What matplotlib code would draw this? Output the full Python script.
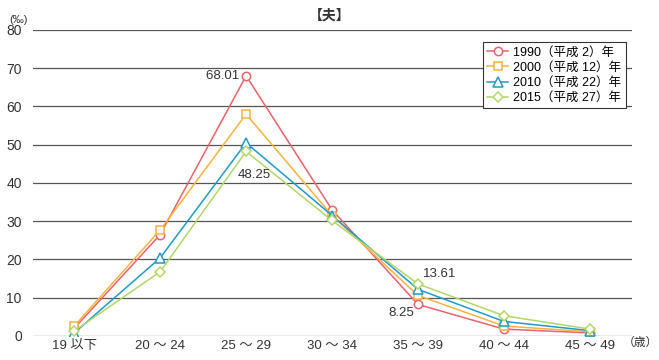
import matplotlib
matplotlib.use("Agg")
import matplotlib.pyplot as plt

plt.rcParams['font.family'] = ['Liberation Sans', 'Noto Sans CJK JP', 'DejaVu Sans']

ages = ['19 以下', '20 ～ 24', '25 ～ 29', '30 ～ 34', '35 ～ 39', '40 ～ 44', '45 ～ 49']
labels = ['1990（平成 2）年', '2000（平成 12）年', '2010（平成 22）年', '2015（平成 27）年']
v1990 = [2.0, 26.5, 68.01, 33.0, 8.25, 1.8, 0.8]
v2000 = [2.6, 27.7, 58.0, 31.5, 10.6, 2.6, 1.1]
v2010 = [0.8, 20.4, 50.5, 31.5, 12.2, 3.8, 1.4]
v2015 = [1.3, 16.8, 48.25, 30.2, 13.61, 5.3, 1.8]

colors = ['#e8636b', '#f5b342', '#1f9ac9', '#b2d66a']
markers = ['o', 's', '^', 'D']
msizes = [6, 6, 7, 5.5]

fig = plt.figure(figsize=(6.59, 3.6), dpi=100)
ax = fig.add_axes([0.050, 0.0667, 0.909, 0.85])

x = range(len(ages))
for vals, c, m, ms, lab in zip([v1990, v2000, v2010, v2015], colors, markers, msizes, labels):
    ax.plot(x, vals, color=c, lw=1.1, marker=m, ms=ms, mfc='white', mec=c, mew=1.1, label=lab)

ax.set_ylim(0, 80)
ax.set_xlim(-0.48, 6.49)
ax.set_yticks(range(0, 81, 10))
ax.set_xticks(list(x))
ax.set_xticklabels(ages)
ax.tick_params(length=0, labelsize=9.5, colors='#333333')
ax.tick_params(axis='y', labelsize=10, pad=8)
ax.tick_params(axis='x', pad=3)
ax.grid(axis='y', color='#555555', lw=0.9)
ax.set_axisbelow(True)
for s in ax.spines.values():
    s.set_visible(False)

ax.text(2, 68.01, '68.01  ', ha='right', va='center', fontsize=9.5, color='#333333')
ax.text(2.1, 42.2, '48.25', ha='center', va='center', fontsize=9.5, color='#333333')
ax.text(3.8, 5.9, '8.25', ha='center', va='center', fontsize=9.5, color='#333333')
ax.text(4.25, 16.2, '13.61', ha='center', va='center', fontsize=9.5, color='#333333')

fig.text(0.028, 0.945, '(‰)', fontsize=8, color='#333333', ha='center', va='center')
fig.text(0.972, 0.047, '（歳）', fontsize=8.5, color='#333333', ha='center', va='center')
fig.text(0.50, 0.958, '【夫】', fontsize=10, fontweight='bold', color='#333333', ha='center', va='center')

leg = ax.legend(loc='upper right', bbox_to_anchor=(1.0, 0.98), fontsize=9, frameon=True,
                fancybox=False, edgecolor='#333333', framealpha=1, handlelength=1.7,
                borderpad=0.35, labelspacing=0.25, handletextpad=0.4)
leg.get_frame().set_linewidth(0.8)

fig.savefig('out.png', dpi=100)
